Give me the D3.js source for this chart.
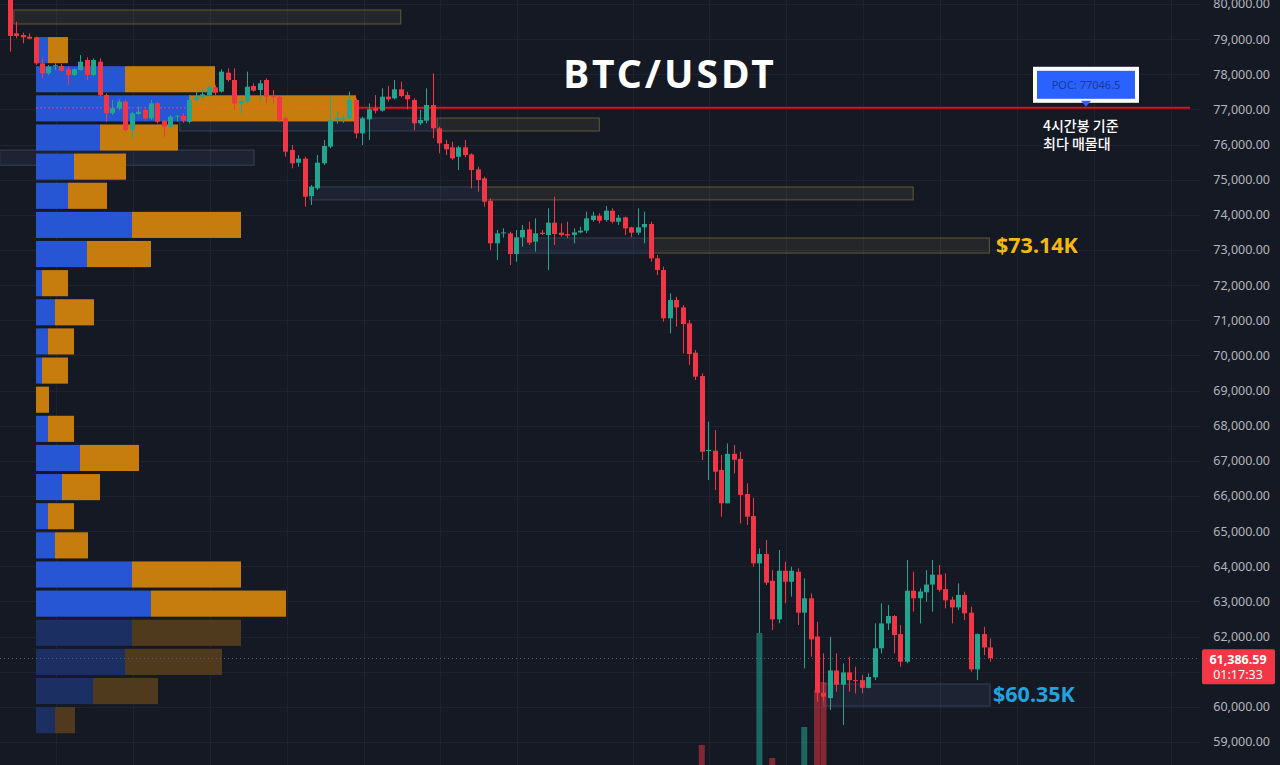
<!DOCTYPE html>
<html>
<head>
<meta charset="utf-8">
<script src="https://cdn.jsdelivr.net/npm/d3@7"></script>
<style>
  html, body { margin: 0; padding: 0; background: #151924; }
  svg { display: block; }
</style>
</head>
<body>
<div id="chart"></div>
<script>
// 4h candles, BTC/USDT
var candleOpen = [80250,79165,79118,79070,79052,78312,78028,78228,78236,78142,77980,78122,78407,77980,78358,77411,76892,77033,77222,76414,
  76870,76984,76747,77173,76678,76508,76793,76813,76650,77268,77363,77411,77630,77505,78047,77838,77173,77222,77667,77553,
  77838,77373,77363,76747,75845,75485,75599,74536,74755,75466,75940,76699,76700,76747,77268,76320,76718,77033,76965,77363,
  77316,77572,77411,77268,76605,76680,77126,76462,76016,75922,75655,75922,75722,75295,75040,74403,73190,73474,73474,72886,
  73360,73588,73237,73493,73427,73777,73493,73450,73430,73500,73550,73853,73976,73853,74118,73805,73930,73645,73493,73645,
  73740,72764,72430,71056,71577,71368,70914,70078,69414,67280,67289,66740,65792,67200,67057,66057,65430,64083,64350,63589,
  62490,63874,63560,63845,62680,63090,62000,60400,60250,61035,60630,60980,60760,60760,60540,60840,61666,62375,62585,62071,
  61285,63305,63090,63260,63480,63760,63350,63050,62830,63185,62680,61067,62071,61690];
var candleHigh = [80400,79497,79184,79165,79071,78454,78264,78312,78293,78217,78169,78549,78482,78454,78454,77458,77268,77287,77268,76936,
  77079,77060,77268,77221,76699,76841,76841,76889,77410,77505,77600,77695,77695,78141,78169,78169,77316,78075,77742,77837,
  77885,77553,77410,76794,75988,75703,75656,74849,75703,76130,77363,76950,76850,77505,77316,76794,77173,77410,77600,77667,
  77837,77790,77505,77316,76984,77600,78027,76509,76130,76083,75959,76130,75751,75371,75087,74470,73569,73620,73521,73569,
  73711,73806,73901,73569,74185,74517,73758,73806,73616,73664,74090,74090,74043,74252,74185,73996,73948,73664,74185,74090,
  73806,72857,72525,71767,71672,71434,71008,70154,69490,68114,67877,67166,67498,67451,67261,66359,65950,64510,64747,63893,
  64463,64131,63988,63941,63656,63229,62423,61522,61996,61522,61237,61427,61142,60905,60953,62376,62945,62897,62613,62328,
  64178,63846,63372,63893,64178,64036,63799,63135,63514,63277,62850,62091,62281,61948];
var candleLow = [78644,79023,78881,78995,78264,77885,77980,78122,78075,77695,77951,78103,77837,77951,77363,76652,76841,76984,76367,76177,
  76841,76680,76699,76604,76225,76462,76652,76623,76604,77221,77268,77363,77410,77477,77790,76984,76889,77173,77505,77268,
  77173,77173,76652,75656,75324,75371,74233,74280,74707,75418,75893,76600,76620,76699,76177,75988,76130,76889,76936,77221,
  77287,77344,77003,76415,76557,76604,76177,75751,75703,75561,75276,75637,74754,74659,74233,73000,72715,73350,72573,72667,
  73094,73142,72952,73426,72430,73142,73379,73332,73189,73474,73474,73806,73758,73806,73758,73711,73426,73360,73426,73189,
  72667,72288,70960,70628,70818,70059,69727,69300,67023,66454,66170,65411,65790,66644,65221,65174,63988,62100,63467,62186,
  62376,62945,63135,62328,61095,61427,60146,60146,59909,60431,59483,60431,60383,60383,60526,60763,61522,62186,61522,61142,
  61237,62708,62376,62992,62708,63277,62803,62376,62755,62471,60999,60763,61474,61284];
var candleClose = [79090,79090,79052,79013,78312,78028,78218,78256,78103,77980,78142,78358,77980,78407,77411,76892,77033,77222,76414,76889,
  76936,76747,77173,76650,76508,76793,76820,76678,77268,77363,77430,77630,77476,78075,77838,77173,77240,77647,77534,77743,
  77363,77345,76699,75798,75466,75599,74517,74802,75485,75960,76699,76760,76760,77268,76320,76747,77003,76965,77363,77288,
  77572,77382,77288,76605,76699,77126,76462,76035,75865,75608,75922,75703,75276,74992,74375,73190,73474,73500,72886,73360,
  73570,73209,73474,73455,73777,73455,73427,73410,73500,73550,73900,73976,73834,74118,73805,73920,73616,73493,73645,73740,
  72764,72430,71056,71577,71368,70893,70040,69395,67260,67310,66692,65792,67200,67030,66030,65412,64083,64350,63532,62490,
  63874,63560,63874,62680,63090,61920,60400,60290,61035,60630,60980,60760,60740,60540,60850,61666,62375,62585,62044,61285,
  63305,63090,63280,63480,63760,63330,63030,62830,63185,62660,61067,62071,61690,61387];

// visible volume bars (candle index, volume in K)
var volIndex = [108, 117, 119, 124, 126, 127];
var volValue = [5.5, 16.7, 4.2, 7.3, 11.0, 11.8];

// volume profile rows (top to bottom), buy / sell volume
var profileTop = 79060, profileStep = 829;
var profileBuy  = [12, 89, 154, 64, 38, 32, 96, 51, 6, 19, 12, 6, 0, 12, 44, 26, 12, 19, 96, 115, 96, 89, 57, 19];
var profileSell = [20, 90, 166, 78, 52, 39, 109, 64, 26, 39, 26, 26, 13, 26, 59, 38, 26, 33, 109, 135, 109, 97, 65, 20];
var profileValueArea = 20; // rows below this index are outside the value area

// zones: [fromIndex, toIndex, highPrice, lowPrice, kind]
var zones = [
  [0.6, 61, 79830, 79431, "y"],
  [-1.6, 38.1, 75845, 75413, "b"],
  [26.5, 66.7, 76756, 76386, "b"],
  [66.7, 92, 76756, 76386, "y"],
  [46.8, 73.8, 74793, 74426, "b"],
  [73.8, 141, 74793, 74426, "y"],
  [79.2, 100, 73341, 72914, "b"],
  [100, 152.9, 73341, 72914, "y"],
  [127, 153, 60650, 60025, "b"]
];

var priceTicks = d3.range(59000, 80001, 1000);
var timeGrid = [7.2, 19.2, 31.2, 43.2, 55.2, 67.2, 79.2, 97.2, 109.2, 121.2, 133.2, 145.2, 157.2, 169.2, 181.2];
var poc = 77046.5;
var lastPrice = 61386.59;
var countdown = "01:17:33";

var W = 1280, H = 765, plotRight = 1200;

var y = d3.scaleLinear().domain([59000, 80000]).range([742, 4]);
var x = d3.scaleLinear().domain([0, candleOpen.length - 1]).range([10, 990]);
var vx = d3.scaleLinear().domain([0, 320]).range([36, 356]);
var vy = d3.scaleLinear().domain([0, 20]).range([800, 600]);

var up = "#22a68f", down = "#f23645";

var svg = d3.select("#chart").append("svg")
  .attr("width", W).attr("height", H)
  .style("font-family", "'Noto Sans', sans-serif");

svg.append("rect").attr("width", W).attr("height", H).attr("fill", "#151924");

svg.append("defs").append("clipPath").attr("id", "plot")
  .append("rect").attr("x", 0).attr("y", 0).attr("width", plotRight).attr("height", H);

var g = svg.append("g").attr("clip-path", "url(#plot)");

// grid
g.selectAll(".hgrid").data(priceTicks).enter().append("line")
  .attr("x1", 0).attr("x2", plotRight)
  .attr("y1", function(d){ return Math.round(y(d)) + 0.5; })
  .attr("y2", function(d){ return Math.round(y(d)) + 0.5; })
  .attr("stroke", "#1f2331").attr("stroke-width", 1);
g.selectAll(".vgrid").data(timeGrid).enter().append("line")
  .attr("y1", 0).attr("y2", H)
  .attr("x1", function(d){ return Math.round(x(d)) + 0.5; })
  .attr("x2", function(d){ return Math.round(x(d)) + 0.5; })
  .attr("stroke", "#1f2331").attr("stroke-width", 1);

// zones
g.selectAll(".zone").data(zones).enter().append("rect")
  .attr("x", function(d){ return x(d[0]); })
  .attr("width", function(d){ return x(d[1]) - x(d[0]); })
  .attr("y", function(d){ return y(d[2]); })
  .attr("height", function(d){ return y(d[3]) - y(d[2]); })
  .attr("fill", function(d){ return d[4] == "y" ? "rgba(120,115,70,0.16)" : "rgba(80,100,140,0.14)"; })
  .attr("stroke", function(d){ return d[4] == "y" ? "#5f5a3a" : "#364257"; })
  .attr("stroke-width", 1);

// volume profile
var rows = profileBuy.map(function(b, i){
  return {buy: b, sell: profileSell[i], hi: profileTop - i*profileStep, lo: profileTop - (i+1)*profileStep, dim: i >= profileValueArea};
});
var vp = g.append("g");
vp.selectAll(".buy").data(rows).enter().append("rect")
  .attr("x", vx(0))
  .attr("y", function(d){ return y(d.hi); })
  .attr("height", function(d){ return y(d.lo) - y(d.hi) - 3; })
  .attr("width", function(d){ return vx(d.buy) - vx(0); })
  .attr("fill", function(d){ return d.dim ? "#1c2f63" : "#2756d4"; });
vp.selectAll(".sell").data(rows).enter().append("rect")
  .attr("x", function(d){ return vx(d.buy); })
  .attr("y", function(d){ return y(d.hi); })
  .attr("height", function(d){ return y(d.lo) - y(d.hi) - 3; })
  .attr("width", function(d){ return vx(d.buy + d.sell) - vx(d.buy); })
  .attr("fill", function(d){ return d.dim ? "#4f3a1d" : "#c77c0e"; });

// POC line
var pocRow = rows[2];
vp.append("line").attr("x1", vx(0)).attr("x2", vx(pocRow.buy))
  .attr("y1", y(poc)).attr("y2", y(poc))
  .attr("stroke", "#8a4fb8").attr("stroke-width", 1.5).attr("stroke-dasharray", "2,2");
vp.append("line").attr("x1", vx(pocRow.buy)).attr("x2", vx(pocRow.buy + pocRow.sell))
  .attr("y1", y(poc)).attr("y2", y(poc))
  .attr("stroke", "#f06a10").attr("stroke-width", 1.5).attr("stroke-dasharray", "3,2");
g.append("line").attr("x1", vx(pocRow.buy + pocRow.sell)).attr("x2", 1190)
  .attr("y1", y(poc)).attr("y2", y(poc))
  .attr("stroke", "#d8141c").attr("stroke-width", 2);

// last price dotted line
g.append("line").attr("x1", 0).attr("x2", plotRight)
  .attr("y1", Math.round(y(lastPrice)) + 0.5).attr("y2", Math.round(y(lastPrice)) + 0.5)
  .attr("stroke", "#5a5e6b").attr("stroke-width", 1).attr("stroke-dasharray", "1,3");

// volume bars
g.selectAll(".vol").data(volIndex).enter().append("rect")
  .attr("x", function(d){ return x(d) - 3; })
  .attr("width", 6)
  .attr("y", function(d, i){ return vy(volValue[i]); })
  .attr("height", function(d, i){ return H - vy(volValue[i]); })
  .attr("fill", function(d){ return candleClose[d] >= candleOpen[d] ? "rgba(34,166,143,0.55)" : "rgba(242,54,69,0.5)"; });

// candles
var candles = candleOpen.map(function(o, i){
  var c = candleClose[i];
  return {i: i, o: o, c: c, h: Math.max(candleHigh[i], o, c), l: Math.min(candleLow[i], o, c)};
});
var cg = g.selectAll(".candle").data(candles).enter().append("g");
cg.append("line")
  .attr("x1", function(d){ return Math.round(x(d.i)) + 0.5; })
  .attr("x2", function(d){ return Math.round(x(d.i)) + 0.5; })
  .attr("y1", function(d){ return y(d.h); })
  .attr("y2", function(d){ return y(d.l); })
  .attr("stroke", function(d){ return d.c >= d.o ? up : down; })
  .attr("stroke-width", 1);
cg.append("rect")
  .attr("x", function(d){ return Math.round(x(d.i)) - 2; })
  .attr("width", 5)
  .attr("y", function(d){ return y(Math.max(d.o, d.c)); })
  .attr("height", function(d){ return Math.max(1, Math.abs(y(d.o) - y(d.c))); })
  .attr("fill", function(d){ return d.c >= d.o ? up : down; });

// price axis (the tick hidden behind the last-price tag is skipped)
var fmt = d3.format(",.2f");
var ly = y(lastPrice);
svg.selectAll(".tick").data(priceTicks.filter(function(d){ return Math.abs(y(d) - (ly + 8)) > 20; }))
  .enter().append("text")
  .attr("x", 1270).attr("y", function(d){ return y(d); })
  .attr("dy", "0.35em").attr("text-anchor", "end")
  .attr("font-size", 12.5).attr("fill", "#b2b5be")
  .text(function(d){ return fmt(d); });

// last price tag
svg.append("rect").attr("x", 1202).attr("y", ly - 9).attr("width", 73).attr("height", 35)
  .attr("rx", 2).attr("fill", "#f23645");
svg.append("text").attr("x", 1238).attr("y", ly + 6).attr("text-anchor", "middle")
  .attr("font-size", 12.5).attr("font-weight", "bold").attr("fill", "#ffffff").text(fmt(lastPrice));
svg.append("text").attr("x", 1238).attr("y", ly + 21).attr("text-anchor", "middle")
  .attr("font-size", 12.5).attr("fill", "#ffffff").text(countdown);

// title
svg.append("text").attr("x", 670).attr("y", 88).attr("text-anchor", "middle")
  .attr("font-size", 39).attr("font-weight", "bold").attr("letter-spacing", 3)
  .attr("fill", "#ffffff").text("BTC/USDT");

// POC label
var px = 1086, py = y(poc);
svg.append("rect").attr("x", px - 51).attr("y", py - 39).attr("width", 102).attr("height", 32)
  .attr("fill", "#2962ff").attr("stroke", "#ffffff").attr("stroke-width", 4);
svg.append("path")
  .attr("d", "M" + (px - 5) + "," + (py - 7) + "L" + (px + 5) + "," + (py - 7) + "L" + px + "," + (py - 1) + "Z")
  .attr("fill", "#2962ff");
svg.append("text").attr("x", px).attr("y", py - 19).attr("text-anchor", "middle")
  .attr("font-size", 11).attr("fill", "#1a3a9c").text("POC: " + poc);
svg.append("text").attr("x", 1043).attr("y", py + 23)
  .attr("font-family", "'Noto Sans CJK KR', sans-serif")
  .attr("font-size", 14).attr("font-weight", 500).attr("fill", "#ffffff").text("4시간봉 기준");
svg.append("text").attr("x", 1043).attr("y", py + 41)
  .attr("font-family", "'Noto Sans CJK KR', sans-serif")
  .attr("font-size", 14).attr("font-weight", 500).attr("fill", "#ffffff").text("최다 매물대");

// zone labels
svg.append("text").attr("x", 996).attr("y", y(73140)).attr("dy", "0.36em")
  .attr("font-size", 21.5).attr("font-weight", "bold").attr("fill", "#f5b90f").text("$73.14K");
svg.append("text").attr("x", 993).attr("y", y(60350)).attr("dy", "0.36em")
  .attr("font-size", 21.5).attr("font-weight", "bold").attr("fill", "#22a3df").text("$60.35K");
</script>
</body>
</html>
